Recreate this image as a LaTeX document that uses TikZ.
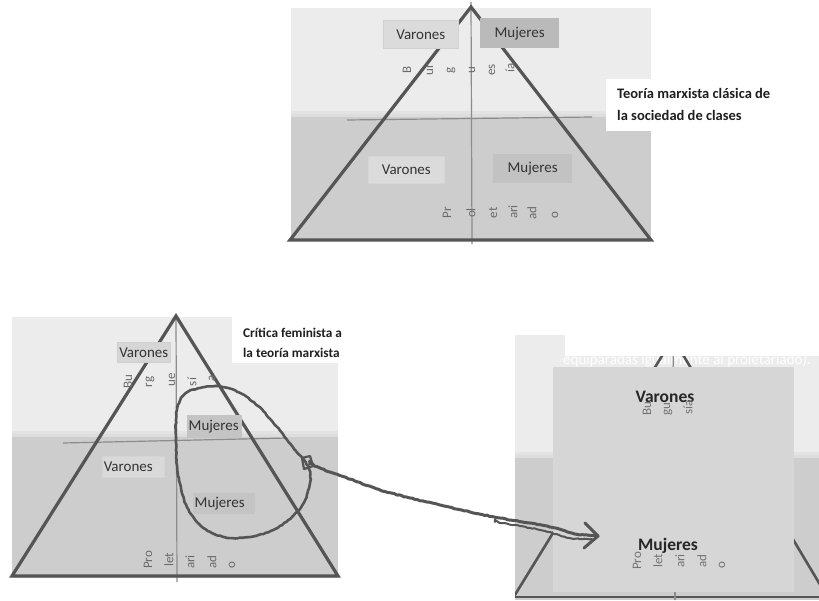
\documentclass[tikz,border=0pt]{standalone}
\usepackage{fontspec}
\setmainfont{Carlito}
\usetikzlibrary{decorations.pathmorphing}
\definecolor{bgl}{HTML}{ECECEC}
\definecolor{bgm}{HTML}{DDDDDD}
\definecolor{bgd}{HTML}{CDCDCD}
\definecolor{legc}{HTML}{555555}
\definecolor{axc}{HTML}{8C8C8C}
\definecolor{frag}{HTML}{6A6A6A}
\definecolor{txt}{HTML}{333333}
\begin{document}
\begin{tikzpicture}[x=1pt,y=-1pt,
  leg/.style={draw=legc,line width=3.2pt,line join=miter},
  axis/.style={draw=axc,line width=1.2pt},
  lbl/.style={font=\fontsize{15}{17}\selectfont,text=txt,inner sep=0pt,anchor=north west},
  lboxl/.style={lbl,align=left,inner xsep=1.5pt},
  fr/.style={font=\fontsize{13}{15}\selectfont,text=frag,rotate=90,inner sep=0pt},
  ttl/.style={font=\bfseries\fontsize{14.5}{16}\selectfont,text=black!88,anchor=base west,inner sep=0pt},
  big/.style={font=\bfseries\fontsize{17.5}{19}\selectfont,text=black!85,inner sep=0pt},
  handplain/.style={draw=legc,line width=2.6pt,line cap=round,line join=round},
  hand/.style={handplain,
    decorate,decoration={random steps,segment length=2.5pt,amplitude=0.45pt}}]

\useasboundingbox (0,0) rectangle (819,600);
\fill[white] (0,0) rectangle (819,600);

%================ Panel 1 (top) ================
\fill[bgl] (291,8) rectangle (651,111);
\fill[bgm!60!bgl] (291,111) rectangle (651,114);
\fill[bgm] (291,114) rectangle (651,117);
\fill[bgd] (291,117) rectangle (651,240);
\coordinate (t1a) at (471,7);
\coordinate (t1l) at (290,240);
\coordinate (t1r) at (651,240);
\draw[axis] (471,2) -- (472,244);
\draw[axis] (347,120) -- (592,117);
\draw[leg] (t1l) -- (t1a) -- (t1r) -- cycle;
\fill[white] (606,79) rectangle (790,131);
\node[ttl] (ttl1a) at (617,98) {Teoría marxista clásica de};
\node[ttl] (ttl1b) at (617,120) {la sociedad de clases};

\node[lbl,fill=black!14,draw=black!18,line width=0.6pt,minimum width=75pt,minimum height=28pt] (v1) at (383,20) {Varones};
\node[lbl,fill=black!27,minimum width=79pt,minimum height=30pt] (m1) at (480,18) {Mujeres};
\node[lbl,fill=black!14,draw=black!16,line width=0.6pt,minimum width=76pt,minimum height=27pt] (v2) at (368,156) {Varones};
\node[lbl,fill=black!24,minimum width=79pt,minimum height=29pt] (m2) at (493,154) {Mujeres};

\foreach \t/\x/\y [count=\i] in {B/407/70, ur/430/70, g/451/70, u/472/70, es/492/70, ía/510/68}
  \node[fr] (fb1-\i) at (\x,\y) {\t};
\foreach \t/\x/\y [count=\i] in {Pr/447/213, ol/471/213, et/493/213, ari/513/212, ad/532/213, o/555/215}
  \node[fr] (fp1-\i) at (\x,\y) {\t};

%================ Panel 2 (bottom left) ================
\fill[bgl] (12,317) rectangle (338,431);
\fill[bgm!60!bgl] (12,431) rectangle (338,434);
\fill[bgm] (12,434) rectangle (338,437);
\fill[bgd] (12,437) rectangle (338,578);
\fill[white] (232,316) rectangle (362,363);
\coordinate (t2a) at (176,316);
\coordinate (t2l) at (12,576);
\coordinate (t2r) at (338,576);
\draw[axis] (176,316) -- (177,582);
\draw[axis] (63,443) -- (287,438);
\draw[leg] (t2l) -- (t2a) -- (t2r) -- cycle;
\node[ttl,font=\bfseries\fontsize{13.3}{15}\selectfont] (ttl2a) at (243,337) {Crítica feminista a};
\node[ttl,font=\bfseries\fontsize{13.3}{15}\selectfont] (ttl2b) at (243,357) {la teoría marxista};

\node[lbl,fill=black!16,draw=black!19,line width=0.6pt,minimum width=53pt,minimum height=20pt] (v3) at (117,342) {Varones};
\node[lboxl,fill=black!23,text width=52pt,minimum height=23pt] (m3) at (187,415) {Mujeres};
\node[lboxl,fill=black!15,draw=black!17,line width=0.6pt,text width=59pt,minimum height=21pt] (v4) at (102,456) {Varones};
\node[lboxl,fill=black!23,text width=59pt,minimum height=21pt] (m4) at (193,493) {Mujeres};

\foreach \t/\x/\y [count=\i] in {Bu/128/382, rg/150/382, ue/172/380, sí/192/382, a/212/378}
  \node[fr] (fb2-\i) at (\x,\y) {\t};
\foreach \t/\x/\y [count=\i] in {Pro/148/560, let/169/560, ari/190/562, ad/212/562, o/232/565}
  \node[fr] (fp2-\i) at (\x,\y) {\t};

%================ Panel 3 (bottom right) ================
\fill[bgl] (515,335) rectangle (565,356);
\fill[bgl] (515,356) rectangle (819,452);
\fill[bgm!60!bgl] (515,452) rectangle (819,455);
\fill[bgm] (515,455) rectangle (819,458);
\fill[bgd] (515,458) rectangle (819,600);
\node[font=\fontsize{15}{17}\selectfont,text=white,anchor=west,inner sep=0pt] (eq) at (563,360) {equiparadas igualmente al proletariado).};
\coordinate (t3a) at (673,338);
\coordinate (t3l) at (513,598);
\coordinate (t3r) at (828,598);
\begin{scope}
  \clip (515,335) rectangle (565,356) (515,356) rectangle (819,600);
  \draw[axis] (673,338) -- (675,600);
  \draw[leg,line width=2.6pt] (t3l) -- (t3a) -- (t3r);
\end{scope}
\draw[leg,line width=2.6pt] (515,597) -- (819,597);
\node[fill=black!16,minimum width=241pt,minimum height=225pt,anchor=north west,inner sep=0pt] (bigbox) at (553,367) {};
\draw[axis] (675,592) -- (675,600);
\node[big] (v5) at (665,397) {Varones};
\node[big] (m5) at (668,546) {Mujeres};
\foreach \t/\x/\y [count=\i] in {Bu/647/409, gu/668/409, sía/688/407}
  \node[fr,text=black!55] (fb3-\i) at (\x,\y) {\t};
\foreach \t/\x/\y [count=\i] in {Pro/637/561, let/658/561, ari/680/561, ad/702/561, o/722/565}
  \node[fr,text=black!55] (fp3-\i) at (\x,\y) {\t};

%================ Hand drawn loop and arrow ================
\draw[hand] plot[smooth cycle,tension=0.6] coordinates {
 (200,388) (215,386) (228,388) (242,394) (258,406) (272,421) (284,436)
 (294,449) (304,460) (310,472) (309,488) (303,504) (292,517) (275,529)
 (255,536) (232,538) (212,533) (197,522) (187,507) (181,488) (177,465)
 (176,440) (176,420) (178,405) (186,393)};
\coordinate (knot) at (307,463);
\draw[handplain,line width=2.2pt] (302,458) -- (310,456) -- (313,466) -- (304,469) -- cycle;
\coordinate (tip) at (598,536);
\draw[hand,line width=3pt] plot[smooth,tension=0.5] coordinates {
 (310,464) (330,472) (355,481) (380,490) (410,498) (440,505) (470,512)
 (500,518) (530,523) (555,528) (575,534) (598,536)};
\draw[hand,line width=2pt] plot[smooth,tension=0.5] coordinates {
 (495,522) (520,526) (545,531) (570,538) (592,539)};
\draw[handplain,line width=3pt] (585,523) -- (tip) -- (584,548);
\end{tikzpicture}
\end{document}
